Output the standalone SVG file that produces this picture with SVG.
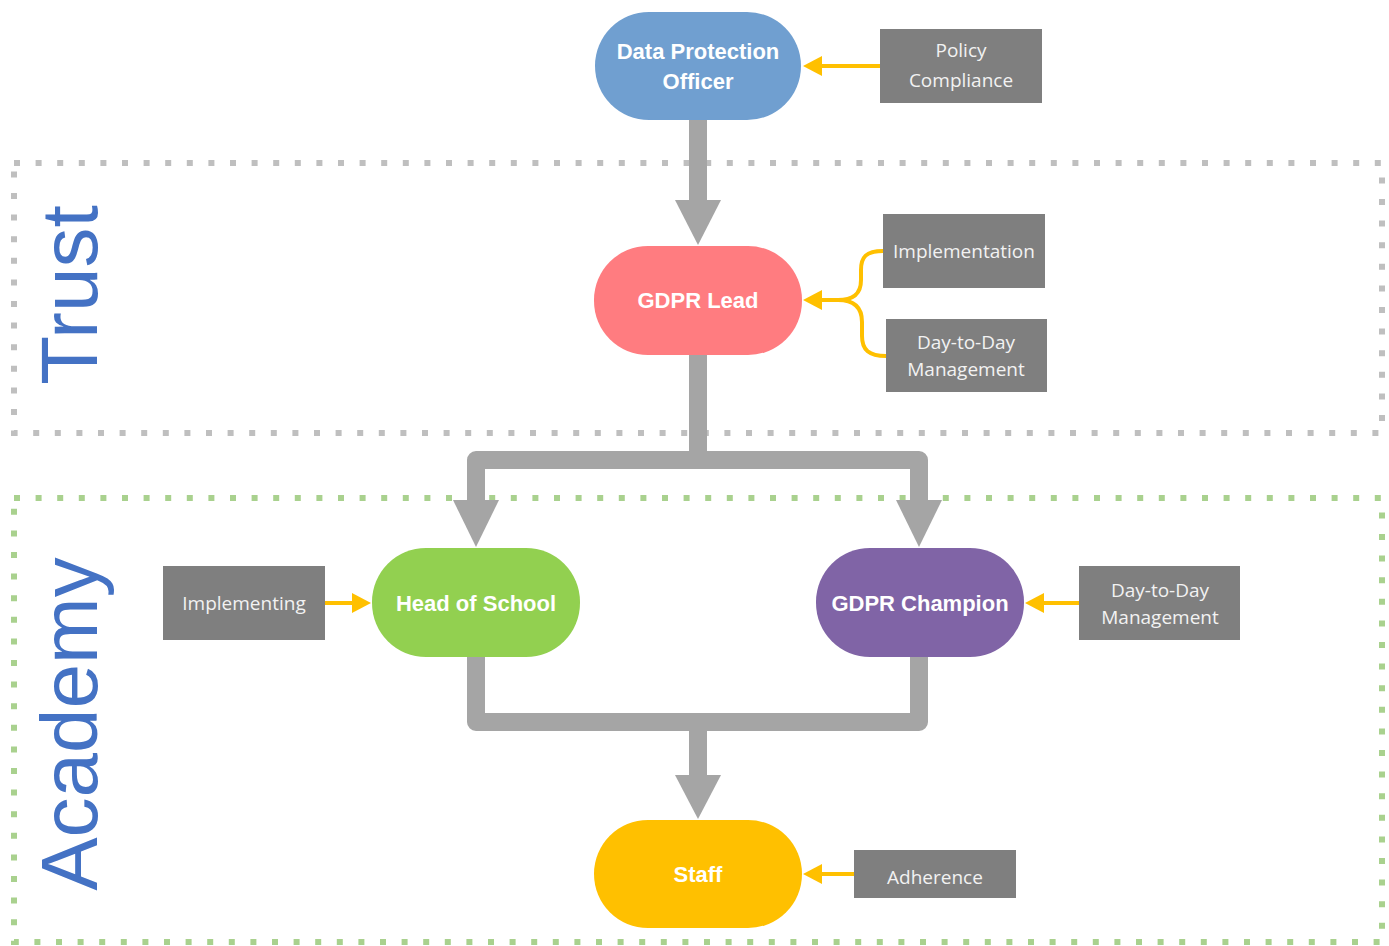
<svg xmlns="http://www.w3.org/2000/svg" width="1389" height="946" viewBox="0 0 1389 946">
<style>
.zone{fill:none;stroke-width:6;stroke-dasharray:6 15.6}
.zlabel{font-family:"Liberation Sans",Arial,sans-serif;font-size:80px;fill:#4472C4;text-anchor:middle}
.pill-t{font-family:"Liberation Sans",Arial,sans-serif;font-size:22px;font-weight:bold;fill:#FFFFFF;text-anchor:middle}
.box{fill:#7F7F7F}
.box-t{font-family:"Open Sans","Liberation Sans",sans-serif;font-size:19px;fill:#F2F2F2;text-anchor:middle}
.gbar{fill:none;stroke:#A5A5A5;stroke-width:18;stroke-linejoin:round}
.ghead{fill:#A5A5A5}
.ybar{fill:none;stroke:#FFC000;stroke-width:4}
.yhead{fill:#FFC000}
</style>
<rect id="zone-trust" class="zone" x="14" y="163" width="1368" height="270" stroke="#BFBFBF"/>
<rect id="zone-academy" class="zone" x="14" y="498" width="1368" height="444" stroke="#A9D18E"/>
<text class="zlabel" transform="translate(97,295) rotate(-90)">Trust</text>
<text class="zlabel" transform="translate(97,724) rotate(-90)">Academy</text>
<g id="connectors">
<line class="gbar" x1="698" y1="120" x2="698" y2="202"/>
<polygon class="ghead" points="675,200 721,200 698,245"/>
<line class="gbar" x1="698" y1="355" x2="698" y2="462"/>
<path class="gbar" d="M476,502 L476,460 L919,460 L919,502"/>
<polygon class="ghead" points="453,500 499,500 476,547"/>
<polygon class="ghead" points="896,500 942,500 919,547"/>
<path class="gbar" d="M476,657 L476,722 L919,722 L919,657"/>
<line class="gbar" x1="698" y1="722" x2="698" y2="777"/>
<polygon class="ghead" points="675,775 721,775 698,819"/>
<line class="ybar" x1="880" y1="66" x2="818" y2="66"/>
<polygon class="yhead" points="803,66 822,56 822,76"/>
<path class="ybar" d="M883,251 C866,251 861,257 861,270 L861,280 C861,295 852,300 838,300 L818,300"/>
<path class="ybar" d="M886,356 C869,356 862,350 862,336 L862,322 C862,306 852,300 838,300"/>
<polygon class="yhead" points="803,300 822,290 822,310"/>
<line class="ybar" x1="325" y1="603" x2="356" y2="603"/>
<polygon class="yhead" points="371,603 352,593 352,613"/>
<line class="ybar" x1="1079" y1="603" x2="1040" y2="603"/>
<polygon class="yhead" points="1025,603 1044,593 1044,613"/>
<line class="ybar" x1="854" y1="874" x2="818" y2="874"/>
<polygon class="yhead" points="803,874 822,864 822,884"/>
</g>
<g id="dpo"><rect x="595" y="12" width="206" height="108" rx="54" fill="#709FD0"/><text class="pill-t" x="698" y="59">Data Protection</text><text class="pill-t" x="698" y="89">Officer</text></g>
<g id="gdpr-lead"><rect x="594" y="246" width="208" height="109" rx="54" fill="#FF7C80"/><text class="pill-t" x="698" y="308">GDPR Lead</text></g>
<g id="head-of-school"><rect x="372" y="548" width="208" height="109" rx="54" fill="#92D050"/><text class="pill-t" x="476" y="611">Head of School</text></g>
<g id="gdpr-champion"><rect x="816" y="548" width="208" height="109" rx="54" fill="#8064A6"/><text class="pill-t" x="920" y="611">GDPR Champion</text></g>
<g id="staff"><rect x="594" y="820" width="208" height="108" rx="54" fill="#FFC000"/><text class="pill-t" x="698" y="882">Staff</text></g>
<g id="policy-compliance"><rect class="box" x="880" y="29" width="162" height="74"/><text class="box-t" x="961" y="57">Policy</text><text class="box-t" x="961" y="87">Compliance</text></g>
<g id="implementation"><rect class="box" x="883" y="214" width="162" height="74"/><text class="box-t" x="964" y="258">Implementation</text></g>
<g id="day-to-day-trust"><rect class="box" x="886" y="319" width="161" height="73"/><text class="box-t" x="966" y="349">Day-to-Day</text><text class="box-t" x="966" y="376">Management</text></g>
<g id="implementing"><rect class="box" x="163" y="566" width="162" height="74"/><text class="box-t" x="244" y="610">Implementing</text></g>
<g id="day-to-day-academy"><rect class="box" x="1079" y="566" width="161" height="74"/><text class="box-t" x="1160" y="597">Day-to-Day</text><text class="box-t" x="1160" y="624">Management</text></g>
<g id="adherence"><rect class="box" x="854" y="850" width="162" height="48"/><text class="box-t" x="935" y="884">Adherence</text></g>
</svg>
